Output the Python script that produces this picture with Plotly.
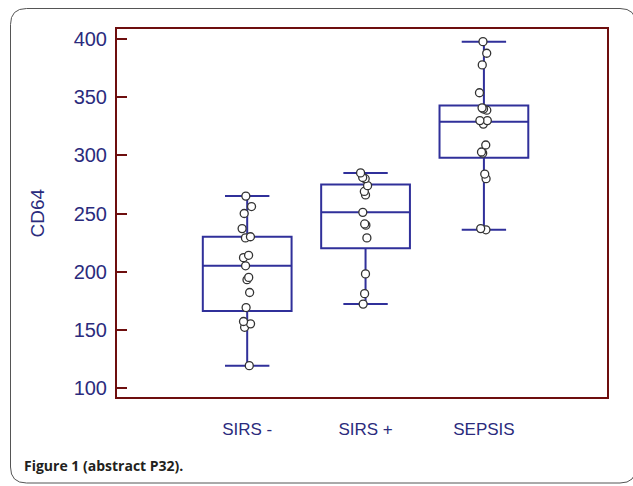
import plotly.graph_objects as go

# groups and CD64 values
groups = ["SIRS -", "SIRS +", "SEPSIS"]

sirs_neg = [265, 256, 250, 237, 230, 229, 214, 212, 205, 195, 193, 182, 169, 157, 155, 152, 119]
sirs_pos = [285, 281, 280, 274, 269, 266, 251, 241, 240, 229, 198, 181, 172]
sepsis = [398, 388, 378, 354, 341, 340, 339, 330, 330, 327, 309, 303, 302, 284, 280, 237, 236]

# box statistics as drawn
q1 = [166, 220, 298]
median = [205, 251, 329]
q3 = [230, 275, 343]
lowerfence = [119, 172, 236]
upperfence = [265, 285, 398]

yticks = [100, 150, 200, 250, 300, 350, 400]

W, H = 633, 486
L, R, T, B = 117, 607, 29, 397   # plot area in pixels

navy = "#2b2b7d"
box_col = "#30309a"
frame_col = "#6e0e0e"


def px(x):
    return (x - L) / (R - L)


def py(y):
    return (B - y) / (B - T)


fig = go.Figure()

fig.add_trace(go.Box(
    x=groups, q1=q1, median=median, q3=q3,
    lowerfence=lowerfence, upperfence=upperfence,
    width=0.75, whiskerwidth=0.5,
    line=dict(color=box_col, width=2),
    fillcolor="white",
    boxpoints=False, hoverinfo="skip", showlegend=False,
))

all_x, all_y = [], []
for g, vals in zip(groups, [sirs_neg, sirs_pos, sepsis]):
    all_x += [g] * len(vals)
    all_y += vals

fig.add_trace(go.Box(
    x=all_x, y=all_y,
    width=0.75, boxpoints="all", pointpos=0, jitter=0.12,
    line=dict(color="rgba(0,0,0,0)", width=0),
    fillcolor="rgba(0,0,0,0)",
    marker=dict(size=8, color="white", line=dict(color="#333333", width=1.3)),
    showlegend=False,
))

# rounded card border (pixel coords -> paper)
x0, x1, y0, y1, r = 10.5, 636, 8.5, 483, 16
path = (f"M {px(x0)},{py(y0 + r)} Q {px(x0)},{py(y0)} {px(x0 + r)},{py(y0)} "
        f"L {px(x1 - r)},{py(y0)} Q {px(x1)},{py(y0)} {px(x1)},{py(y0 + r)} "
        f"L {px(x1)},{py(y1 - r)} Q {px(x1)},{py(y1)} {px(x1 - r)},{py(y1)} "
        f"L {px(x0 + r)},{py(y1)} Q {px(x0)},{py(y1)} {px(x0)},{py(y1 - r)} Z")
fig.add_shape(type="path", path=path, xref="paper", yref="paper",
              line=dict(color="#555555", width=1), layer="below")

fig.add_annotation(text="CD64", textangle=-90, x=px(24), y=0.5,
                   xref="paper", yref="paper", showarrow=False,
                   font=dict(family="Liberation Sans", size=19, color=navy))

fig.add_annotation(text="<b>Figure 1 (abstract P32).</b>", x=px(22), y=py(465),
                   xref="paper", yref="paper", xanchor="left", yanchor="middle",
                   showarrow=False,
                   font=dict(family="Open Sans", size=14, color="#231f20"))

fig.update_layout(
    width=W, height=H,
    margin=dict(l=L, r=W - R, t=T, b=H - B),
    paper_bgcolor="white", plot_bgcolor="white",
    boxmode="overlay",
    xaxis=dict(
        range=[-1.1, 3.04], showgrid=False, zeroline=False,
        showline=True, mirror=True, linecolor=frame_col, linewidth=2,
        ticks="", ticklabelstandoff=16,
        tickfont=dict(family="Liberation Sans", size=17, color=navy),
    ),
    yaxis=dict(
        range=[92, 408.9], showgrid=False, zeroline=False,
        showline=True, mirror=True, linecolor=frame_col, linewidth=2,
        tickvals=yticks, ticks="inside", ticklen=10, tickwidth=2,
        tickcolor=frame_col, ticklabelstandoff=4,
        tickfont=dict(family="Liberation Sans", size=20, color=navy),
    ),
)

fig.write_html("out.html", config={"displayModeBar": False},
               post_script="document.body.style.margin='0px';")
